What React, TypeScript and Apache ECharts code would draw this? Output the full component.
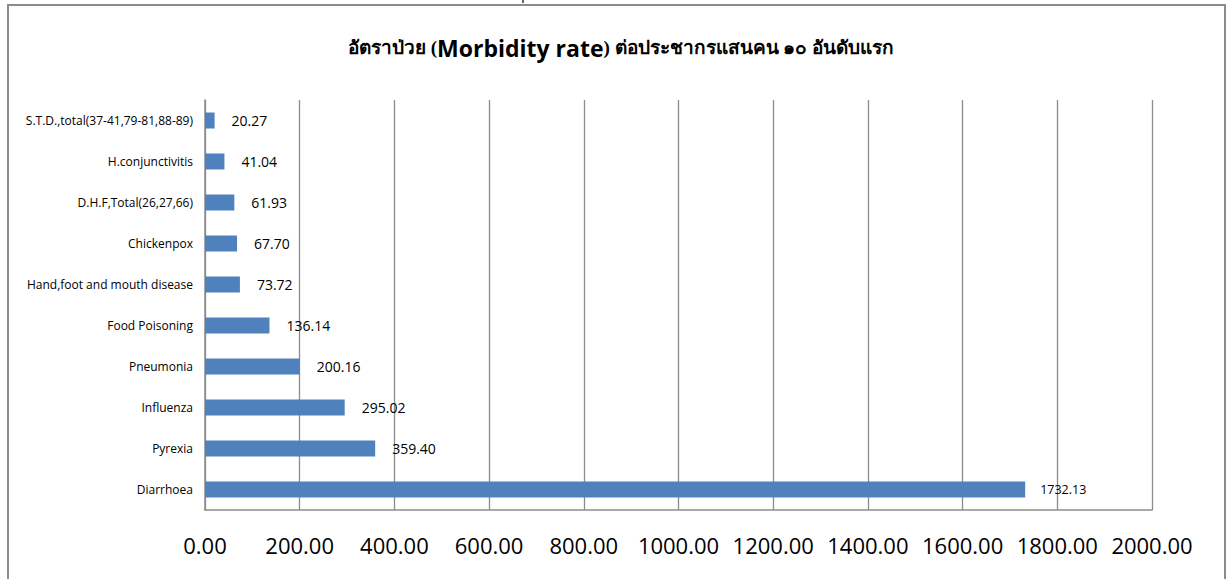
import React, { useEffect, useRef } from "react";
import * as echarts from "echarts";

const categories = [
  "S.T.D.,total(37-41,79-81,88-89)",
  "H.conjunctivitis",
  "D.H.F,Total(26,27,66)",
  "Chickenpox",
  "Hand,foot and mouth disease",
  "Food Poisoning",
  "Pneumonia",
  "Influenza",
  "Pyrexia",
  "Diarrhoea",
];
const values = [20.27, 41.04, 61.93, 67.7, 73.72, 136.14, 200.16, 295.02, 359.4, 1732.13];
const titleThaiA = "อัตราป่วย (";
const titleEn = "Morbidity rate";
const titleThaiB = ") ต่อประชากรแสนคน ๑๐ อันดับแรก";

export default function App() {
  const ref = useRef<HTMLDivElement>(null);
  useEffect(() => {
    if (!ref.current) return;
    const chart = echarts.init(ref.current, undefined, { renderer: "svg" });
    chart.setOption({
      animation: false,
      backgroundColor: "#ffffff",
      title: {
        text: `{a|${titleThaiA}}{b|${titleEn}}{a|${titleThaiB}}`,
        left: 616,
        textAlign: "center",
        top: 31,
        textStyle: {
          rich: {
            a: { fontFamily: "serif", fontSize: 19, fontWeight: "bold", color: "#000" },
            b: { fontFamily: "Open Sans", fontSize: 23, fontWeight: "bold", color: "#000" },
          },
        },
      },
      graphic: [
        {
          type: "rect",
          shape: { x: 8, y: 5, width: 1217, height: 620 },
          style: { fill: "none", stroke: "#8c8c8c", lineWidth: 2 },
          silent: true,
        },
        {
          type: "line",
          shape: { x1: 523, y1: 0, x2: 523, y2: 3 },
          style: { stroke: "#333", lineWidth: 1.5 },
          silent: true,
        },
      ],
      grid: { left: 205, right: 75, top: 100, bottom: 69, containLabel: false },
      xAxis: {
        type: "value",
        min: 0,
        max: 2000,
        interval: 200,
        axisLine: { show: true, lineStyle: { color: "#8c8c8c", width: 1.5 } },
        axisTick: { show: false },
        splitLine: { show: true, lineStyle: { color: "#8c8c8c", width: 1.3 } },
        axisLabel: {
          formatter: (v: number) => v.toFixed(2),
          fontSize: 22,
          color: "#000",
          fontFamily: "Open Sans",
          margin: 24,
        },
      },
      yAxis: {
        type: "category",
        inverse: true,
        data: categories,
        axisLine: { show: true, lineStyle: { color: "#8c8c8c", width: 1.5 } },
        axisTick: { show: false },
        axisLabel: { fontSize: 12, color: "#000", fontFamily: "Open Sans", margin: 12 },
      },
      series: [
        {
          type: "bar",
          barWidth: 16,
          data: values.map((v) => ({
            value: v,
            label: v > 1000 ? { fontSize: 12.5, distance: 15 } : undefined,
          })),
          itemStyle: { color: "#4F81BD" },
          label: {
            show: true,
            position: "right",
            distance: 17,
            formatter: (p: any) => Number(p.value).toFixed(2),
            fontSize: 14,
            color: "#000",
            fontFamily: "Open Sans",
          },
        },
      ],
    });
    return () => chart.dispose();
  }, []);
  return (
    <div
      ref={ref}
      style={{ position: "absolute", left: 0, top: 0, width: 1227, height: 579 }}
    />
  );
}
